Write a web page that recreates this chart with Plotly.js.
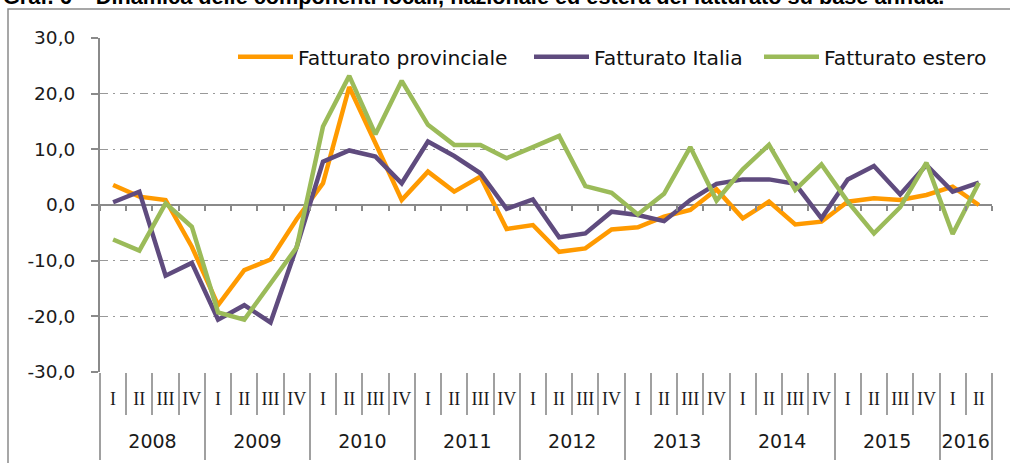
<!DOCTYPE html>
<html>
<head>
<meta charset="utf-8">
<script src="https://cdn.plot.ly/plotly-3.0.1.min.js"></script>
<style>html,body{margin:0;padding:0;background:#fff;}#chart{width:1010px;height:463px;}</style>
</head>
<body>
<div id="chart"></div>
<script>
const years = ["2008","2009","2010","2011","2012","2013","2014","2015","2016"];
const quartersPerYear = [4,4,4,4,4,4,4,4,2];
const quarterNames = ["I","II","III","IV"];
const provinciale = [3.6,1.5,0.9,-7.5,-18.0,-11.7,-9.8,-2.5,3.9,21.2,11.1,0.9,6.0,2.4,5.1,-4.3,-3.6,-8.4,-7.8,-4.4,-4.0,-2.1,-0.9,2.8,-2.4,0.6,-3.5,-3.0,0.6,1.2,0.9,1.8,3.3,0.0];
const italia = [0.5,2.4,-12.7,-10.4,-20.6,-18.0,-21.1,-7.5,7.8,9.8,8.7,3.9,11.4,8.8,5.7,-0.7,1.0,-5.8,-5.1,-1.2,-1.8,-2.9,0.9,3.8,4.6,4.6,3.8,-2.4,4.6,7.0,1.9,7.2,2.4,4.0];
const estero = [-6.2,-8.2,0.3,-3.9,-19.3,-20.6,-14.1,-7.6,14.1,23.2,12.7,22.3,14.4,10.8,10.8,8.4,10.4,12.4,3.4,2.2,-1.7,2.0,10.4,0.8,6.4,10.8,2.7,7.3,0.6,-5.1,-0.4,7.6,-5.2,4.0];
const seriesNames = ["Fatturato provinciale","Fatturato Italia","Fatturato estero"];
const yTicks = [-30,-20,-10,0,10,20,30];
const titleText = "Graf. 6 – Dinamica delle componenti locali, nazionale ed estera del fatturato su base annua.";

// derived category structure
const qLabels = [], yearCenters = [], yearBounds = [-0.5];
let idx = 0;
years.forEach((y, k) => {
  const n = quartersPerYear[k];
  for (let q = 0; q < n; q++) qLabels.push(quarterNames[q]);
  yearCenters.push(idx + (n - 1) / 2);
  idx += n;
  yearBounds.push(idx - 0.5);
});
const N = qLabels.length;
const xi = qLabels.map((_, i) => i);
const bounds = []; for (let i = 0; i <= N; i++) bounds.push(i - 0.5);
const xr = [-0.5, N - 0.5];

const colors = ["#FF9A00", "#5F4B7E", "#9BBB59"];
const data = [provinciale, italia, estero].map((v, k) => ({
  x: xi, y: v, type: "scatter", mode: "lines", name: seriesNames[k],
  line: {color: colors[k], width: 4.5}, legend: k === 0 ? "legend" : "legend" + (k + 1),
  hoverinfo: "skip"
}));
// helper axes need a (empty) trace each so their subplot is drawn
["x2","x3","x4","x5"].forEach(a => data.push({x: [], y: [], xaxis: a, yaxis: "y", type: "scatter",
  mode: "lines", showlegend: false, hoverinfo: "skip"}));

const grey = "#8a8a8a";
const L = 100, R = 992, T = 38, B = 372, W = 1010, H = 463;
const px2x = p => (p - L) / (R - L);
const py2y = p => (B - p) / (B - T);
const legendFont = {family: "DejaVu Sans", size: 20.3, color: "#111"};
const leg = (xp) => ({x: px2x(xp), xanchor: "left", y: py2y(57), yanchor: "middle",
  orientation: "h", font: legendFont, bgcolor: "rgba(0,0,0,0)", itemwidth: 55});

const helperAxis = extra => Object.assign({overlaying: "x", anchor: "y", side: "bottom", range: xr,
  showgrid: false, zeroline: false, showline: false, showticklabels: false}, extra);

const layout = {
  width: W, height: H,
  margin: {l: L, r: W - R, t: T, b: H - B, pad: 0},
  paper_bgcolor: "#fff", plot_bgcolor: "#fff",
  showlegend: true,
  legend: leg(233), legend2: leg(529), legend3: leg(759),
  xaxis: {type: "linear", range: xr, tickvals: xi, ticktext: qLabels, ticks: "",
    showgrid: false, zeroline: false, showline: false,
    tickfont: {family: "Liberation Serif", size: 18, color: "#1a1a1a"}, ticklabelstandoff: 14},
  xaxis2: helperAxis({tickvals: bounds, ticks: "outside", ticklen: 42, tickwidth: 2, tickcolor: "#a0a0a0"}),
  xaxis3: helperAxis({tickvals: yearBounds, ticks: "outside", ticklen: 87, tickwidth: 2, tickcolor: "#a0a0a0"}),
  xaxis4: helperAxis({tickvals: yearCenters, ticktext: years, ticks: "outside", ticklen: 52,
    tickcolor: "rgba(0,0,0,0)", showticklabels: true, tickfont: {family: "DejaVu Sans", size: 19, color: "#1a1a1a"}}),
  xaxis5: helperAxis({anchor: "free", position: 0.5, tickvals: bounds, ticks: "outside",
    ticklen: 5, tickwidth: 2, tickcolor: grey}),
  yaxis: {range: [-30, 30], tickvals: yTicks, ticktext: yTicks.map(v => v.toFixed(1).replace(".", ",")),
    showgrid: true, gridcolor: "#999", gridwidth: 1.5, griddash: "8px,5px,2px,5px",
    zeroline: true, zerolinecolor: grey, zerolinewidth: 2,
    showline: true, linecolor: grey, linewidth: 2, ticks: "outside", ticklen: 7, tickwidth: 2, tickcolor: grey,
    ticklabelstandoff: 12, tickfont: {family: "DejaVu Sans", size: 18.5, color: "#1a1a1a"}},
  shapes: [{type: "rect", xref: "paper", yref: "paper", x0: px2x(8), x1: px2x(1030), y0: py2y(490), y1: py2y(9),
    line: {color: grey, width: 1.5}, fillcolor: "rgba(0,0,0,0)", layer: "below"}],
  annotations: [{text: "<b>" + titleText + "</b>", xref: "paper", yref: "paper", x: px2x(1), xanchor: "left",
    y: py2y(11), yanchor: "bottom", showarrow: false, font: {family: "Liberation Sans", size: 21.7, color: "#000"}}]
};

Plotly.newPlot("chart", data, layout, {displayModeBar: false, staticPlot: true});
</script>
</body>
</html>
